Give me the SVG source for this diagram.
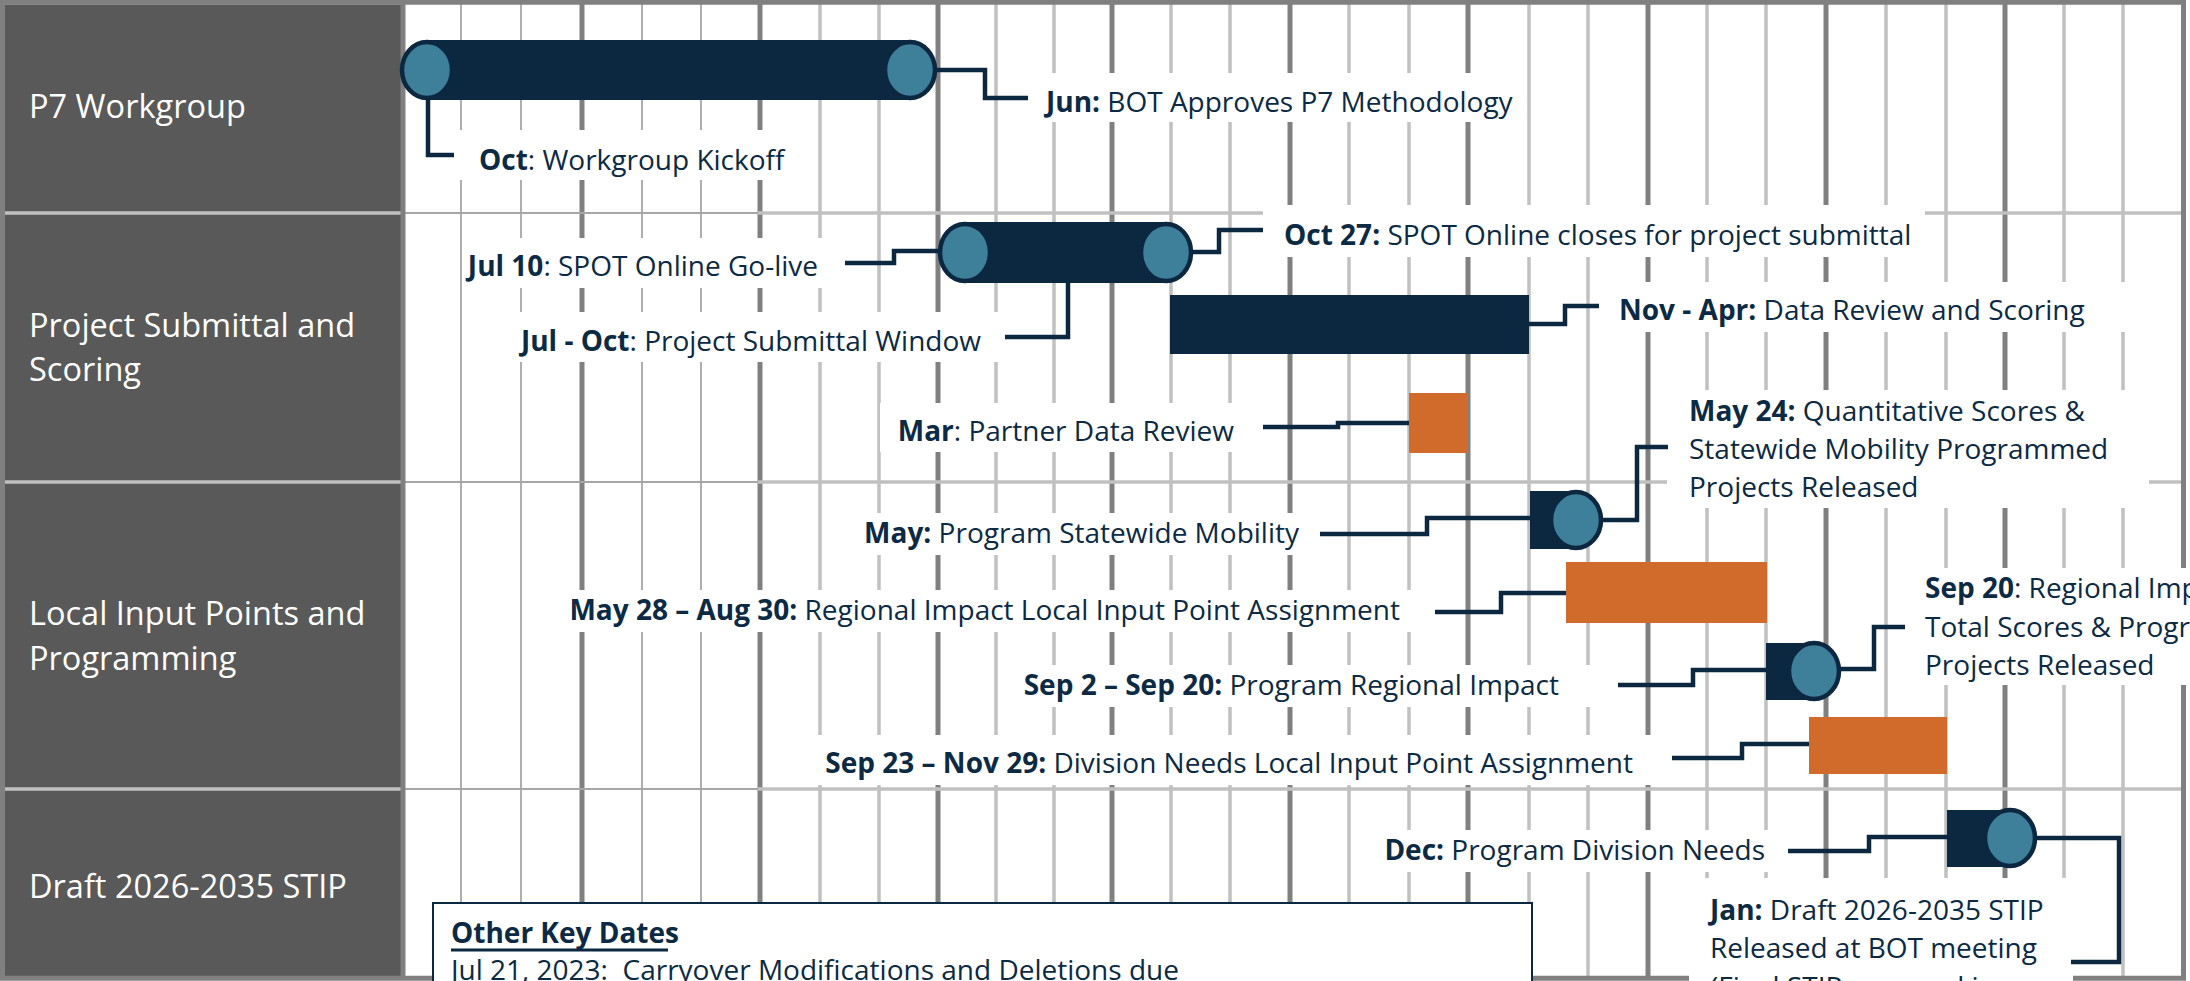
<svg xmlns="http://www.w3.org/2000/svg" width="2190" height="981" viewBox="0 0 2190 981">
<defs>
<style>
.t{font-family:"Open Sans","Noto Sans","Liberation Sans",sans-serif;font-size:28px;fill:#0c2a43}
.b{font-weight:700}
.pl{font-family:"Open Sans","Noto Sans","Liberation Sans",sans-serif;font-size:32.5px;fill:#ffffff}
.gl{stroke:#c0c0c0;stroke-width:3.5}
.gt{stroke:#a6a6a6;stroke-width:1.8}
.gd{stroke:#808080;stroke-width:5}
.div{stroke:#c0c0c0;stroke-width:3.5}
.divt{stroke:#a6a6a6;stroke-width:1.8}
.box{fill:#ffffff}
.con{fill:none;stroke:#0c2840;stroke-width:4.5;stroke-linejoin:miter}
.bar{fill:#0c2840}
.org{fill:#d06b2b}
.cap{fill:#3e7f99;stroke:#0c2840;stroke-width:4.5}
</style>
</defs>
<rect x="0" y="0" width="2190" height="981" fill="#ffffff"/>
<g id="grid">
<rect x="5" y="4.5" width="397" height="972" fill="#595959"/>
<line class="gt" x1="461" y1="4" x2="461" y2="977"/>
<line class="gt" x1="521" y1="4" x2="521" y2="977"/>
<line class="gd" x1="582" y1="4" x2="582" y2="977"/>
<line class="gt" x1="642" y1="4" x2="642" y2="977"/>
<line class="gt" x1="701" y1="4" x2="701" y2="977"/>
<line class="gd" x1="760" y1="4" x2="760" y2="977"/>
<line class="gl" x1="820" y1="4" x2="820" y2="977"/>
<line class="gl" x1="879" y1="4" x2="879" y2="977"/>
<line class="gd" x1="938" y1="4" x2="938" y2="977"/>
<line class="gl" x1="996" y1="4" x2="996" y2="977"/>
<line class="gl" x1="1054" y1="4" x2="1054" y2="977"/>
<line class="gd" x1="1112" y1="4" x2="1112" y2="977"/>
<line class="gl" x1="1171" y1="4" x2="1171" y2="977"/>
<line class="gl" x1="1230" y1="4" x2="1230" y2="977"/>
<line class="gd" x1="1290" y1="4" x2="1290" y2="977"/>
<line class="gl" x1="1349" y1="4" x2="1349" y2="977"/>
<line class="gl" x1="1409" y1="4" x2="1409" y2="977"/>
<line class="gd" x1="1468" y1="4" x2="1468" y2="977"/>
<line class="gl" x1="1529" y1="4" x2="1529" y2="977"/>
<line class="gl" x1="1588" y1="4" x2="1588" y2="977"/>
<line class="gd" x1="1648" y1="4" x2="1648" y2="977"/>
<line class="gl" x1="1707" y1="4" x2="1707" y2="977"/>
<line class="gl" x1="1766" y1="4" x2="1766" y2="977"/>
<line class="gd" x1="1826" y1="4" x2="1826" y2="977"/>
<line class="gl" x1="1886" y1="4" x2="1886" y2="977"/>
<line class="gl" x1="1946" y1="4" x2="1946" y2="977"/>
<line class="gd" x1="2005" y1="4" x2="2005" y2="977"/>
<line class="gl" x1="2064" y1="4" x2="2064" y2="977"/>
<line class="gl" x1="2123" y1="4" x2="2123" y2="977"/>
<line class="div" x1="5" y1="213" x2="403" y2="213"/>
<line class="div" x1="5" y1="482" x2="403" y2="482"/>
<line class="div" x1="5" y1="789" x2="403" y2="789"/>
<line class="divt" x1="403" y1="213" x2="758" y2="213"/>
<line class="divt" x1="403" y1="482" x2="758" y2="482"/>
<line class="divt" x1="403" y1="789" x2="758" y2="789"/>
<line class="div" x1="758" y1="213" x2="2183" y2="213"/>
<line class="div" x1="758" y1="482" x2="2183" y2="482"/>
<line class="div" x1="758" y1="789" x2="2183" y2="789"/>
<line class="gd" x1="403" y1="4" x2="403" y2="977"/>
<rect x="2.5" y="2.25" width="2181" height="976" fill="none" stroke="#808080" stroke-width="5"/>
</g>
<g id="row-labels">
<text class="pl" x="29" y="118">P7 Workgroup</text>
<text class="pl" x="29" y="337">Project Submittal and</text>
<text class="pl" x="29" y="381">Scoring</text>
<text class="pl" x="29" y="625">Local Input Points and</text>
<text class="pl" x="29" y="670">Programming</text>
<text class="pl" x="29" y="898">Draft 2026-2035 STIP</text>
</g>
<g id="label-backgrounds">
<rect class="box" x="455" y="130" width="345" height="50"/>
<rect class="box" x="1030" y="73" width="478" height="49"/>
<rect class="box" x="463" y="238" width="382" height="50"/>
<rect class="box" x="1263" y="205" width="662" height="52"/>
<rect class="box" x="505" y="312" width="500" height="50"/>
<rect class="box" x="1599" y="282" width="551" height="50"/>
<rect class="box" x="880" y="403" width="383" height="49"/>
<rect class="box" x="850" y="513" width="470" height="42"/>
<rect class="box" x="1667" y="390" width="482" height="118"/>
<rect class="box" x="545" y="590" width="890" height="42"/>
<rect class="box" x="1010" y="665" width="608" height="42"/>
<rect class="box" x="1905" y="568" width="285" height="117"/>
<rect class="box" x="800" y="735" width="872" height="50"/>
<rect class="box" x="1380" y="830" width="408" height="42"/>
<rect class="box" x="1689" y="878" width="384" height="103"/>
</g>
<g id="connectors">
<polyline class="con" points="428,98 428,155 454,155"/>
<polyline class="con" points="934,70 985,70 985,98 1028,98"/>
<polyline class="con" points="942,251 894,251 894,263 845,263"/>
<polyline class="con" points="1189,252 1219,252 1219,230 1263,230"/>
<polyline class="con" points="1068,282 1068,337 1005,337"/>
<polyline class="con" points="1528,324 1565,324 1565,306 1599,306"/>
<polyline class="con" points="1410,423 1338,423 1338,427 1263,427"/>
<polyline class="con" points="1531,518 1427,518 1427,534 1320,534"/>
<polyline class="con" points="1600,520 1637,520 1637,447 1668,447"/>
<polyline class="con" points="1567,593 1501,593 1501,612 1435,612"/>
<polyline class="con" points="1767,670 1693,670 1693,685 1618,685"/>
<polyline class="con" points="1838,669 1874,669 1874,627 1905,627"/>
<polyline class="con" points="1810,744 1742,744 1742,758 1672,758"/>
<polyline class="con" points="1948,837 1869,837 1869,851 1788,851"/>
<polyline class="con" points="2034,838 2119,838 2119,962 2071,962"/>
</g>
<g id="p7-workgroup-bar">
<rect class="bar" x="427" y="40" width="483" height="60"/>
<ellipse class="cap" cx="427" cy="70" rx="25" ry="28"/>
<ellipse class="cap" cx="910" cy="70" rx="25" ry="28"/>
</g>
<g id="submittal-window-bar">
<rect class="bar" x="965" y="222" width="201" height="61"/>
<ellipse class="cap" cx="965" cy="252.5" rx="25" ry="28.5"/>
<ellipse class="cap" cx="1166" cy="252.5" rx="25" ry="28.5"/>
</g>
<g id="data-review-bar">
<rect class="bar" x="1170" y="295" width="359" height="59"/>
</g>
<g id="partner-review-bar">
<rect class="org" x="1409" y="393" width="59" height="60"/>
</g>
<g id="statewide-milestone">
<rect class="bar" x="1530" y="491" width="46" height="58"/>
<ellipse class="cap" cx="1576" cy="520" rx="25" ry="28"/>
</g>
<g id="regional-points-bar">
<rect class="org" x="1566" y="562" width="201" height="61"/>
</g>
<g id="regional-milestone">
<rect class="bar" x="1766" y="643" width="48" height="57"/>
<ellipse class="cap" cx="1814" cy="671" rx="25" ry="28"/>
</g>
<g id="division-points-bar">
<rect class="org" x="1809" y="717" width="138" height="57"/>
</g>
<g id="division-milestone">
<rect class="bar" x="1947" y="810" width="63" height="57"/>
<ellipse class="cap" cx="2010" cy="838" rx="25" ry="28"/>
</g>
<g id="labels">
<text class="t" x="479" y="170"><tspan class="b">Oct</tspan>: Workgroup Kickoff</text>
<text class="t" x="1046" y="112"><tspan class="b">Jun:</tspan> BOT Approves P7 Methodology</text>
<text class="t" x="818" y="276" text-anchor="end"><tspan class="b">Jul 10</tspan>: SPOT Online Go-live</text>
<text class="t" x="1284" y="245"><tspan class="b">Oct 27:</tspan> SPOT Online closes for project submittal</text>
<text class="t" x="981" y="351" text-anchor="end"><tspan class="b">Jul - Oct</tspan>: Project Submittal Window</text>
<text class="t" x="1619" y="320"><tspan class="b">Nov - Apr:</tspan> Data Review and Scoring</text>
<text class="t" x="1234" y="441" text-anchor="end"><tspan class="b">Mar</tspan>: Partner Data Review</text>
<text class="t" x="1299" y="543" text-anchor="end"><tspan class="b">May:</tspan> Program Statewide Mobility</text>
<text class="t" x="1689" y="421"><tspan class="b">May 24:</tspan> Quantitative Scores &amp;</text>
<text class="t" x="1689" y="459">Statewide Mobility Programmed</text>
<text class="t" x="1689" y="497">Projects Released</text>
<text class="t" x="1400" y="620" text-anchor="end"><tspan class="b">May 28 – Aug 30:</tspan> Regional Impact Local Input Point Assignment</text>
<text class="t" x="1559" y="695" text-anchor="end"><tspan class="b">Sep 2 – Sep 20:</tspan> Program Regional Impact</text>
<text class="t" x="1925" y="598"><tspan class="b">Sep 20</tspan>: Regional Impact</text>
<text class="t" x="1925" y="637">Total Scores &amp; Programmed</text>
<text class="t" x="1925" y="675">Projects Released</text>
<text class="t" x="1633" y="773" text-anchor="end"><tspan class="b">Sep 23 – Nov 29:</tspan> Division Needs Local Input Point Assignment</text>
<text class="t" x="1765" y="860" text-anchor="end"><tspan class="b">Dec:</tspan> Program Division Needs</text>
<text class="t" x="1710" y="920"><tspan class="b">Jan:</tspan> Draft 2026-2035 STIP</text>
<text class="t" x="1710" y="958">Released at BOT meeting</text>
<text class="t" x="1710" y="997">(Final STIP approval in</text>
</g>
<g id="other-key-dates">
<rect x="433" y="903" width="1099" height="90" fill="#ffffff" stroke="#0c2840" stroke-width="2"/>
<text class="t b" x="451" y="943">Other Key Dates</text>
<line x1="451" y1="950" x2="668" y2="950" stroke="#0c2840" stroke-width="3"/>
<text class="t" x="451" y="980">Jul 21, 2023:&#160; Carryover Modifications and Deletions due</text>
</g>
</svg>
